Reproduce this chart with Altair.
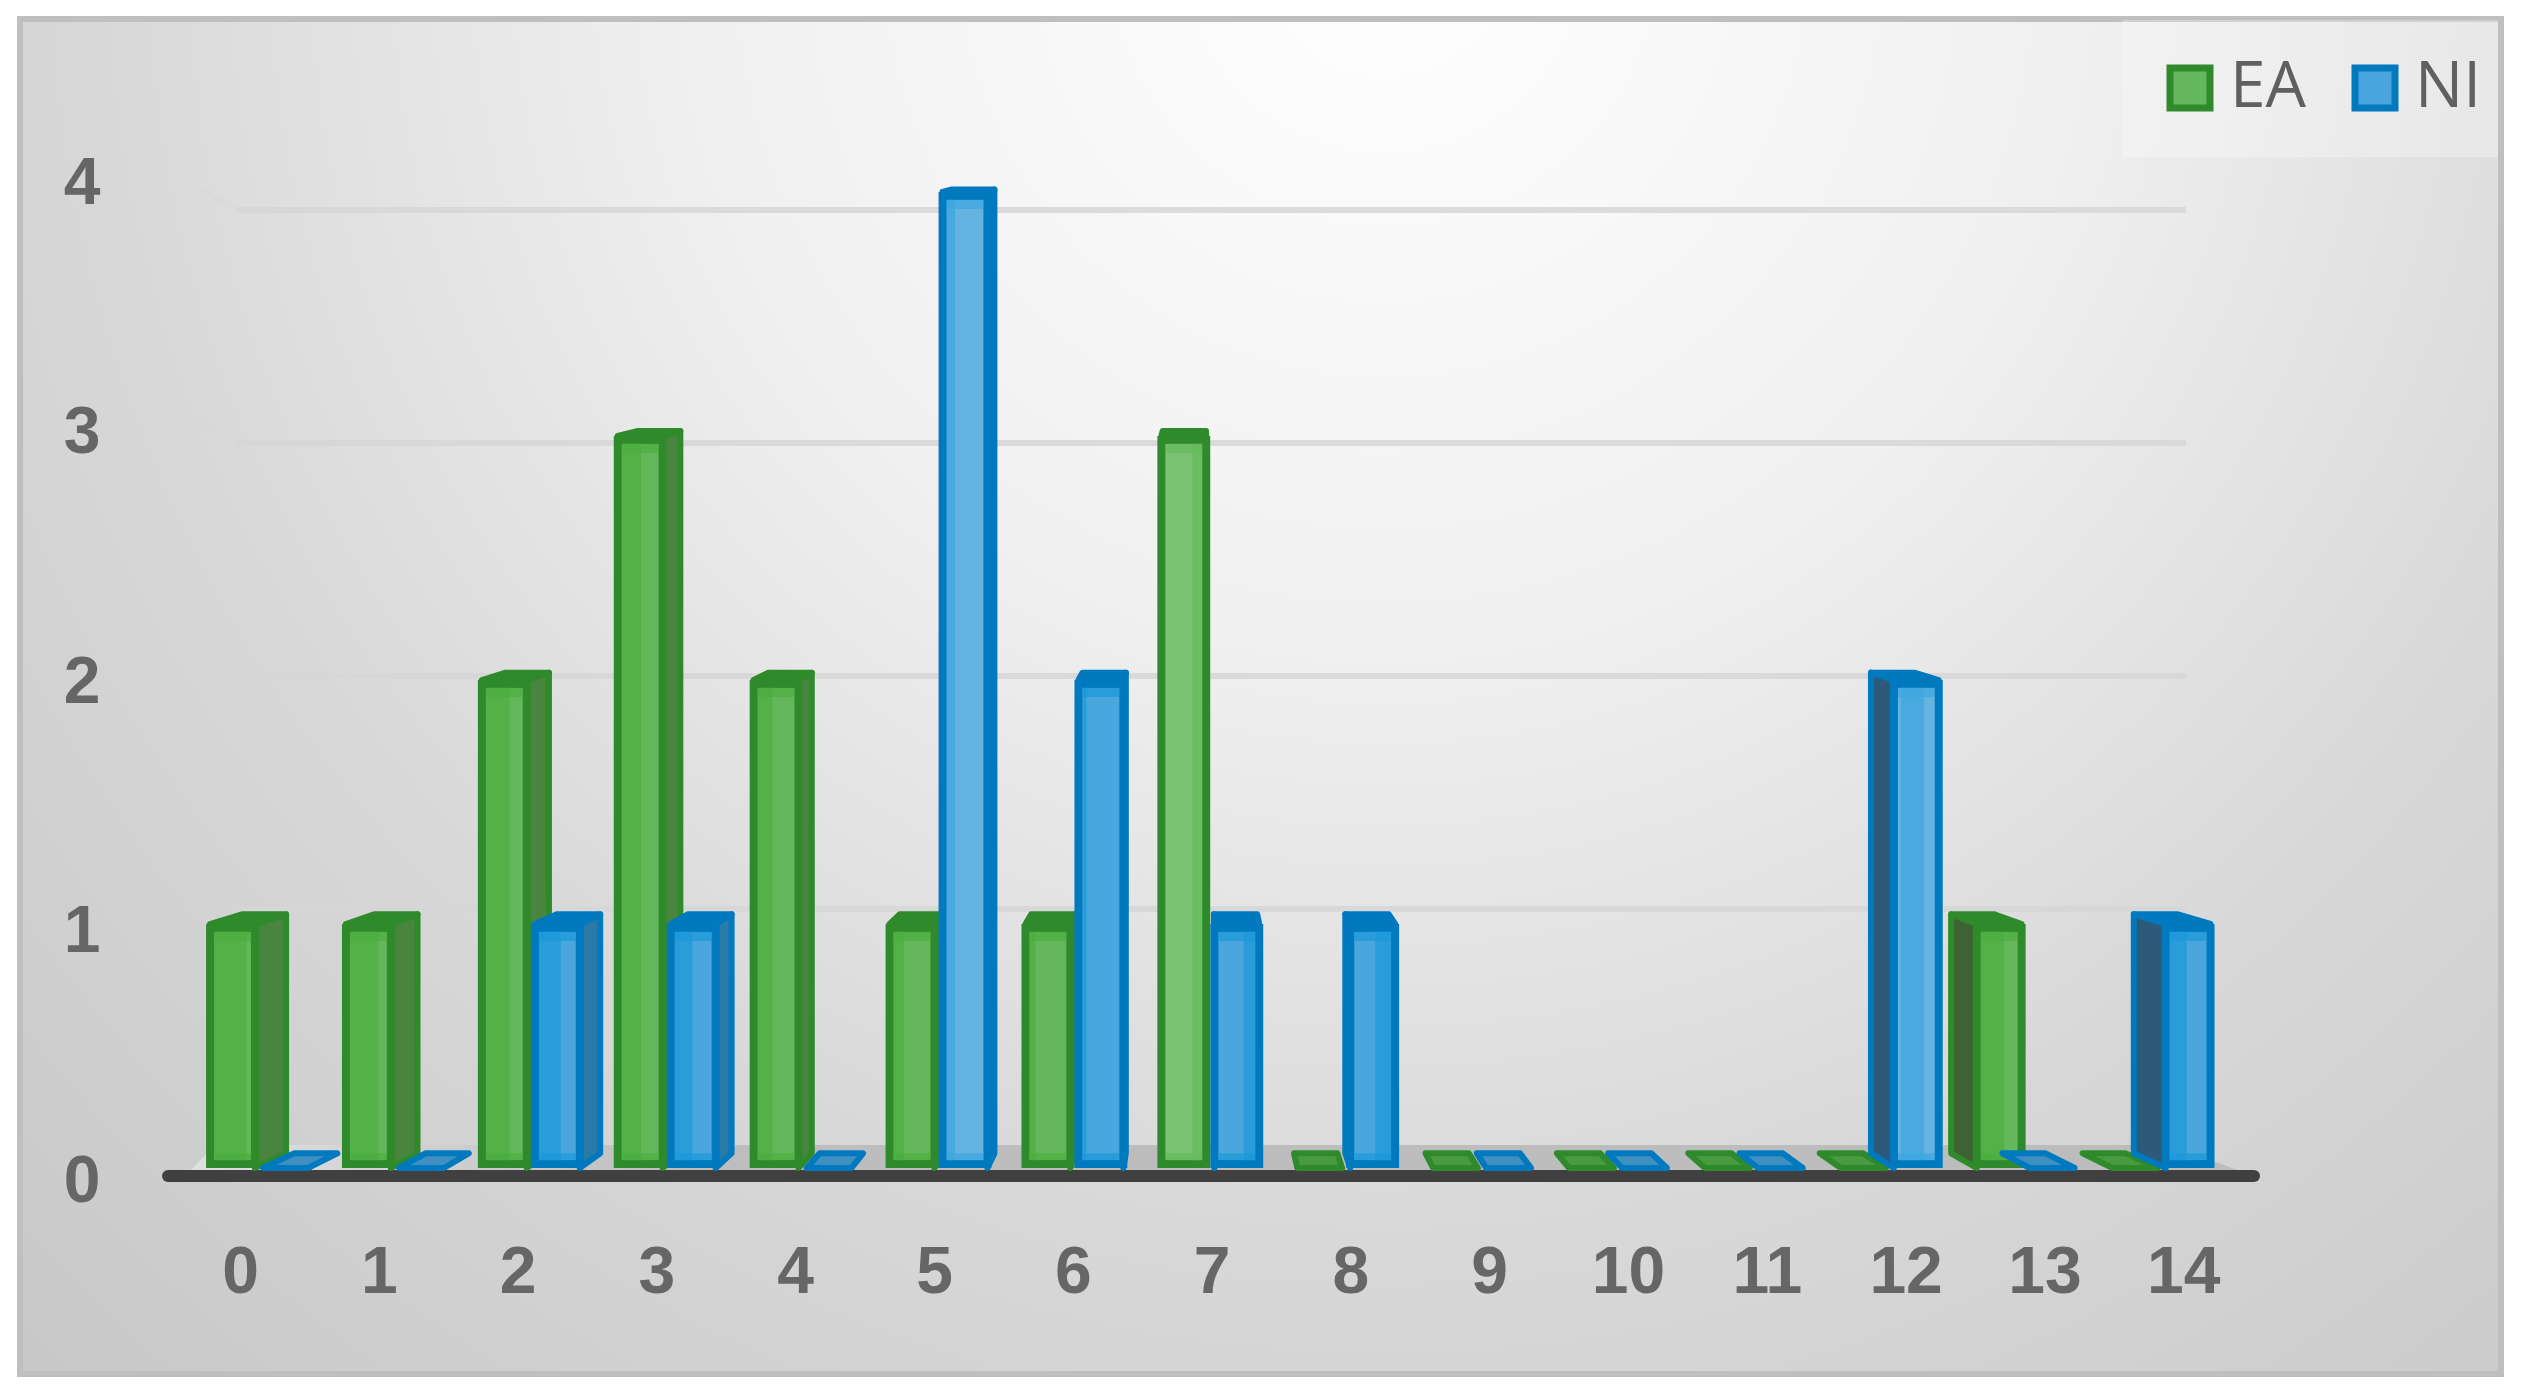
import altair as alt
import pandas as pd

CATEGORIES = list(range(15))
EA = [1, 1, 2, 3, 2, 1, 1, 3, 0, 0, 0, 0, 0, 1, 0]
NI = [0, 0, 1, 1, 0, 4, 2, 1, 1, 0, 0, 0, 2, 0, 1]
SERIES = {"EA": EA, "NI": NI}
Y_LABELS = [0, 1, 2, 3, 4]
GRID_LEVELS = [1, 2, 3, 4]
BRIGHT = {("EA", 7), ("NI", 5), ("NI", 12)}

STYLE = {
    "EA": dict(fill="#64b85b", edge="#2f8a2b", right="#4a8540", left="#3f6235",
               flat="#4a9a42", band="#4bae3f"),
    "NI": dict(fill="#4aa6dc", edge="#0079bf", right="#2a7aa8", left="#2c5a78",
               flat="#3f8fc0", band="#1b98d8"),
}

# plot area in page pixels
L, R, T, B = 120, 2400, 100, 1183
W, H = R - L, B - T


def dom(origin, unit, lo, hi):
    return [(lo - origin) / unit, (hi - origin) / unit]


X_BAR = alt.Scale(domain=dom(206, 135.9, L, R), nice=False, zero=False)
X_AXIS = alt.Scale(domain=dom(240, 138.8, L, R), nice=False, zero=False)
Y_BAR = alt.Scale(domain=[(1168 - B) / 244, (1168 - T) / 244], nice=False, zero=False)
Y_AXIS = alt.Scale(domain=[(1181 - B) / 249.5, (1181 - T) / 249.5], nice=False, zero=False)
Y_GRID = alt.Scale(domain=[(1142 - B) / 233, (1142 - T) / 233], nice=False, zero=False)

BAR_W = 0.39
INSET_U = 0.03
INSET_V = 0.016
K, UC = 0.033, 7.31


def back_u(u):
    return u + K * (UC - u)


def back_v(v):
    return 0.06 if v == 0 else v + 0.05 - 0.01 * v


rows = []
for name, values in SERIES.items():
    off = 0 if name == "EA" else BAR_W
    for c, v in zip(CATEGORIES, values):
        rows.append(dict(series=name, cat=c, value=v,
                         l=c + off + INSET_U, r=c + off + BAR_W - INSET_U,
                         bar=f"{name}{c}", bright=(name, c) in BRIGHT))
bars = pd.DataFrame(rows)


def X(field, scale=X_BAR):
    return alt.X(field, type="quantitative", scale=scale, axis=None, stack=None, title=None)


def Y(field, scale=Y_BAR):
    return alt.Y(field, type="quantitative", scale=scale, axis=None, stack=None, title=None)


one = pd.DataFrame({"a": [0]})

background = alt.Chart(one).mark_rect(
    fill=alt.RadialGradient(
        gradient="radial", x1=0.55, y1=0.2, x2=0.55, y2=0.2, r1=0, r2=1,
        stops=[alt.GradientStop(offset=0, color="#ffffff"),
               alt.GradientStop(offset=0.28, color="#f0f0f0"),
               alt.GradientStop(offset=0.52, color="#d8d8d8"),
               alt.GradientStop(offset=0.95, color="#bebebe")]),
    stroke="#bfbfbf", strokeWidth=6,
).encode(x=alt.value(20 - L), x2=alt.value(2501 - L), y=alt.value(19 - T), y2=alt.value(1374 - T))

legend_box = alt.Chart(one).mark_rect(fill="#ffffff", opacity=0.28).encode(
    x=alt.value(2122 - L), x2=alt.value(2498 - L), y=alt.value(20 - T), y2=alt.value(157 - T))

# back-wall gridlines
grid_rows = []
slant_rows = []
for g in GRID_LEVELS:
    slant_rows.append(dict(level=g, u=(197 - 206) / 135.9, y=g + 23 / 233))
    slant_rows.append(dict(level=g, u=(237 - 206) / 135.9, y=g))
    grid_rows.append(dict(level=g, u=(237 - 206) / 135.9, y=g))
    grid_rows.append(dict(level=g, u=(2186 - 206) / 135.9, y=g))
grid = alt.Chart(pd.DataFrame(grid_rows)).mark_line(
    color="#d6d6d6", strokeWidth=6, opacity=0.85
).encode(x=X("u"), y=Y("y", Y_GRID), detail="level:N")
slant = alt.Chart(pd.DataFrame(slant_rows)).mark_line(
    color="#d6d6d6", strokeWidth=5, opacity=0.35
).encode(x=X("u"), y=Y("y", Y_GRID), detail="level:N")

# floor
floor_df = pd.DataFrame([
    dict(y=(1168 - 1171) / 244, a=(190 - 206) / 135.9, b=(2240 - 206) / 135.9),
    dict(y=(1168 - 1145) / 244, a=(215 - 206) / 135.9, b=(2170 - 206) / 135.9),
])
floor = alt.Chart(floor_df).mark_area(
    orient="horizontal",
    fill=alt.LinearGradient(
        gradient="linear", x1=0, x2=1, y1=0, y2=0,
        stops=[alt.GradientStop(offset=0, color="#e0e0e0"),
               alt.GradientStop(offset=0.25, color="#bdbdbd"),
               alt.GradientStop(offset=1, color="#bcbcbc")]),
).encode(y=Y("y"), x=X("a"), x2="b:Q")

axis_line = alt.Chart(pd.DataFrame({"y": [(1168 - 1176) / 244], "a": [(168 - 206) / 135.9],
                                    "b": [(2254 - 206) / 135.9]})).mark_rule(
    color="#404040", strokeWidth=12, strokeCap="round"
).encode(y=Y("y"), x=X("a"), x2="b:Q")

layers = [background, legend_box, grid, slant, floor, axis_line]

color_domain = list(SERIES)
fill_scale = alt.Scale(domain=color_domain, range=[STYLE[s]["fill"] for s in color_domain])
stroke_scale = alt.Scale(domain=color_domain, range=[STYLE[s]["edge"] for s in color_domain])
legend = alt.Legend(
    title=None, orient="none", legendX=2038, legendY=-44, columns=2, columnPadding=34,
    symbolType="square", symbolSize=1600, symbolStrokeWidth=7, labelFont="Open Sans",
    labelFontSize=64, labelColor="#606060", labelOffset=8, labelLimit=200, padding=0,
    rowPadding=0, symbolOpacity=1,
)

for name in SERIES:
    st = STYLE[name]
    df = bars[bars.series == name]
    tall = df[df.value > 0]
    side_rows = []
    for _, b in tall.iterrows():
        if b.r < UC:
            face, u0 = "right", b.r
        elif b.l > UC:
            face, u0 = "left", b.l
        else:
            continue
        side_rows.append(dict(bar=b.bar, face=face, u=u0, lo=0, hi=b.value))
        side_rows.append(dict(bar=b.bar, face=face, u=back_u(u0), lo=back_v(0), hi=back_v(b.value)))
    side = pd.DataFrame(side_rows)
    for face in ("right", "left"):
        sub = side[side.face == face]
        if len(sub):
            layers.append(alt.Chart(sub).mark_area(
                fill=st[face], stroke=st["edge"], strokeWidth=6, strokeJoin="round"
            ).encode(x=X("u"), y=Y("lo"), y2="hi:Q", detail="bar:N"))

    cap_rows = []
    for _, b in df.iterrows():
        cap_rows.append(dict(bar=b.bar, zero=b.value == 0, y=b.value, a=b.l, c=b.r))
        cap_rows.append(dict(bar=b.bar, zero=b.value == 0, y=back_v(b.value), a=back_u(b.l), c=back_u(b.r)))
    caps = pd.DataFrame(cap_rows)
    layers.append(alt.Chart(caps[~caps.zero]).mark_area(
        orient="horizontal", fill=st["edge"], stroke=st["edge"], strokeWidth=6, strokeJoin="round"
    ).encode(y=Y("y"), x=X("a"), x2="c:Q", detail="bar:N"))
    layers.append(alt.Chart(caps[caps.zero]).mark_area(
        orient="horizontal", fill=st["flat"], stroke=st["edge"], strokeWidth=6, strokeJoin="round"
    ).encode(y=Y("y"), x=X("a"), x2="c:Q", detail="bar:N"))

    front = tall.assign(top=tall.value - INSET_V, base=INSET_V)
    layers.append(alt.Chart(front).mark_rect(strokeWidth=8).encode(
        x=X("l"), x2="r:Q", y=Y("base"), y2="top:Q",
        fill=alt.Fill("series:N", scale=fill_scale, legend=legend),
        stroke=alt.Stroke("series:N", scale=stroke_scale, legend=legend),
    ))

    # glass effect inside the front face
    band_rows = []
    for _, b in tall.iterrows():
        li, ri = b.l + INSET_U, b.r - INSET_U
        if b.r < UC:
            a, c = li, min(back_u(b.l) + 0.03, ri)
        else:
            mid = back_u(b.r)
            a, c = max(mid - 0.1, li), min(mid + 0.07, ri)
        band_rows.append(dict(a=a, c=c, lo=2 * INSET_V, hi=b.value - 2 * INSET_V))
        band_rows.append(dict(a=li, c=ri, lo=2 * INSET_V, hi=0.06))
        band_rows.append(dict(a=li, c=ri, lo=b.value - 0.07, hi=b.value - 2 * INSET_V))
    layers.append(alt.Chart(pd.DataFrame(band_rows)).mark_rect(fill=st["band"], opacity=0.7).encode(
        x=X("a"), x2="c:Q", y=Y("lo"), y2="hi:Q"))

    bright = tall[tall.bright]
    if len(bright):
        layers.append(alt.Chart(bright.assign(lo=2 * INSET_V, hi=bright.value - 2 * INSET_V, a=bright.l + INSET_U, c=bright.r - INSET_U)).mark_rect(
            fill="#ffffff", opacity=0.15
        ).encode(x=X("a"), x2="c:Q", y=Y("lo"), y2="hi:Q"))

axis_style = dict(
    domain=False, ticks=False, grid=False, labelFont="Liberation Sans", labelFontWeight="bold",
    labelFontSize=66, labelColor="#666666", title=None, format="d",
    labelOverlap=False, labelFlush=False, zindex=1,
)
axes = alt.Chart(pd.DataFrame({"c": CATEGORIES, "y": [0] * len(CATEGORIES)})).mark_point(opacity=0).encode(
    x=alt.X("c:Q", scale=X_AXIS, axis=alt.Axis(orient="bottom", values=CATEGORIES, labelPadding=57, **axis_style)),
    y=alt.Y("y:Q", scale=Y_AXIS, axis=alt.Axis(orient="left", values=Y_LABELS, labelPadding=20, **axis_style)),
)
layers.append(axes)

chart = alt.layer(*layers).resolve_scale(x="independent", y="independent").properties(
    width=W, height=H,
    autosize=alt.AutoSizeParams(type="none"),
    padding={"left": L - 8, "top": T - 8, "right": 110, "bottom": 200},
    background="white",
).configure_view(stroke=None)

chart.save("out.html", embed_options={"renderer": "svg", "actions": False})
